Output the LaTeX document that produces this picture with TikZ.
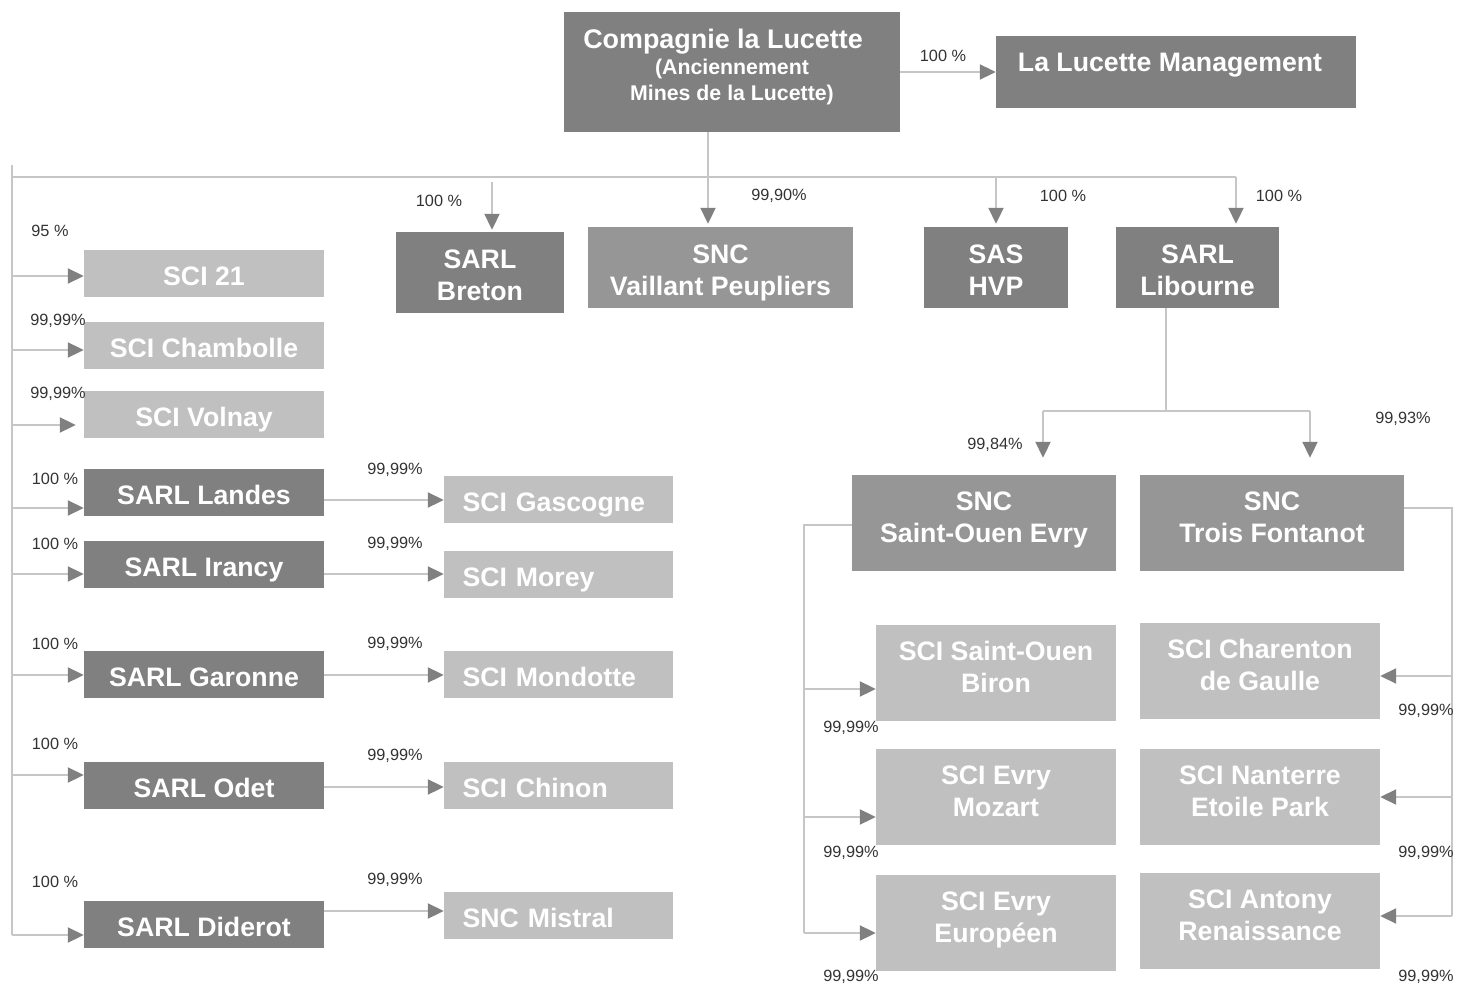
\documentclass[tikz,border=0pt]{standalone}
\usepackage{fontspec}
\setmainfont{Liberation Sans}
\usetikzlibrary{arrows.meta, positioning}
\definecolor{dark}{HTML}{808080}
\definecolor{mid}{HTML}{969696}
\definecolor{light}{HTML}{C0C0C0}
\definecolor{wire}{HTML}{C6C6C6}
\definecolor{pct}{HTML}{333333}

\begin{document}
\begin{tikzpicture}[x=1pt, y=-1pt,
	box/.style={fill=#1, text=white, font=\bfseries\fontsize{26.7}{32}\selectfont, align=center, inner sep=0pt},
	one/.style={text height=24pt, text depth=0pt},
	pair/.style={text height=56pt, text depth=0pt},
	two/.style={text depth=12pt},
	lft/.style={text width=192pt, align=left},
	link/.style={draw=wire, line width=2pt},
	arr/.style={link, -{Triangle[length=16pt, width=15pt, color=dark]}},
	pc/.style={font=\fontsize{16.3}{18}\selectfont, text=pct, inner sep=0pt}]
	\useasboundingbox (0,0) rectangle (1457,984);

	% top of the group
	\node[box=dark, minimum width=336pt, minimum height=120pt, text depth=14pt,
		font=\bfseries\fontsize{26.9}{26}\selectfont] (comp) at (732,72)
		{Compagnie la Lucette\hspace*{18pt}\\{\fontsize{21.3}{26}\selectfont (Anciennement}\\{\fontsize{21.3}{26}\selectfont Mines de la Lucette)}};
	\node[box=dark, minimum width=360pt, minimum height=72pt, text height=20pt, text depth=20pt] (mgmt) at (1176,72) {La Lucette Management\hspace*{12pt}};

	\node[box=dark, pair, minimum width=168pt, minimum height=81pt] (breton) at (480,272.5) {SARL\\Breton};
	\node[box=mid, pair, minimum width=265pt, minimum height=81pt] (vaillant) at (720.5,267.5) {SNC\\Vaillant Peupliers};
	\node[box=dark, pair, minimum width=144pt, minimum height=81pt] (hvp) at (996,267.5) {SAS\\HVP};
	\node[box=dark, pair, minimum width=163pt, minimum height=81pt] (libourne) at (1197.5,267.5) {SARL\\Libourne};

	% left column
	\foreach \n/\y/\c/\t in {sci21/274/light/SCI 21, chambolle/346/light/SCI Chambolle, volnay/414/light/SCI Volnay,
		landes/492/dark/SARL Landes, irancy/564/dark/SARL Irancy, garonne/674.5/dark/SARL Garonne,
		odet/785.5/dark/SARL Odet, diderot/924/dark/SARL Diderot}
		\node[box=\c, one, minimum width=240pt, minimum height=47pt] (\n) at (204,\y) {\t};
	\foreach \n/\y/\t in {gascogne/499.5/SCI Gascogne, morey/574.5/SCI Morey, mondotte/674.5/SCI Mondotte,
		chinon/785.5/SCI Chinon, mistral/915.5/SNC Mistral}
		\node[box=light, one, lft, minimum width=229pt, minimum height=47pt] (\n) at (558.5,\y) {\t};

	% Libourne branch
	\node[box=mid, two, minimum width=264pt, minimum height=96pt] (soe) at (984,523) {SNC\\Saint-Ouen Evry};
	\node[box=mid, two, minimum width=264pt, minimum height=96pt] (trois) at (1272,523) {SNC\\Trois Fontanot};
	\node[box=light, two, minimum width=240pt, minimum height=96pt] (biron) at (996,673) {SCI Saint-Ouen\\Biron};
	\node[box=light, two, minimum width=240pt, minimum height=96pt] (mozart) at (996,797) {SCI Evry\\Mozart};
	\node[box=light, two, minimum width=240pt, minimum height=96pt] (europeen) at (996,923) {SCI Evry\\Européen};
	\node[box=light, two, minimum width=240pt, minimum height=96pt] (charenton) at (1260,671) {SCI Charenton\\de Gaulle};
	\node[box=light, two, minimum width=240pt, minimum height=96pt] (nanterre) at (1260,797) {SCI Nanterre\\Etoile Park};
	\node[box=light, two, minimum width=240pt, minimum height=96pt] (antony) at (1260,921) {SCI Antony\\Renaissance};

	% connectors
	\coordinate (hub) at (708,177);
	\coordinate (lbus) at (12,177);
	\coordinate (rbus) at (1236,177);
	\draw[arr] (comp.east) -- (mgmt.west);
	\draw[link] (comp.south -| hub) -- (hub);
	\draw[link, line width=2.5pt] (lbus) -- (rbus);
	\draw[link] (12,165) -- (lbus |- 0,935);
	\draw[arr, shorten >=2pt] (492,182) -- (breton.north -| 492,0);
	\draw[arr, shorten >=3pt] (hub) -- (vaillant.north -| hub);
	\draw[arr, shorten >=3pt] (hvp.north |- hub) -- (hvp.north);
	\draw[arr, shorten >=3pt] (rbus) -- (libourne.north -| rbus);

	\foreach \n/\y in {sci21/276, chambolle/350, landes/508, irancy/574, garonne/675, odet/775, diderot/935}
		\draw[arr] (lbus |- 0,\y) -- (\n.west |- 0,\y);
	\draw[arr, shorten >=8pt] (lbus |- 0,425) -- (volnay.west |- 0,425);
	\foreach \a/\b/\y in {landes/gascogne/500, irancy/morey/574, garonne/mondotte/675, odet/chinon/787, diderot/mistral/911}
		\draw[arr] (\a.east |- 0,\y) -- (\b.west |- 0,\y);

	\coordinate (split) at (1166,411);
	\coordinate (sl) at (1043,411);
	\coordinate (sr) at (1310,411);
	\draw[link] (libourne.south -| split) -- (split);
	\draw[link] (sl) -- (sr);
	\draw[arr, shorten >=17pt] (sl) -- (soe.north -| sl);
	\draw[arr, shorten >=17pt] (sr) -- (trois.north -| sr);

	\coordinate (lb) at (804,933);
	\coordinate (rb) at (1452,916);
	\draw[link] (soe.west |- 0,525) -| (lb);
	\draw[link] (trois.east |- 0,508) -| (rb);
	\foreach \n/\y in {biron/689, mozart/817, europeen/933}
		\draw[arr] (lb |- 0,\y) -- (\n.west |- 0,\y);
	\foreach \n/\y in {charenton/676, nanterre/797, antony/916}
		\draw[arr] (rb |- 0,\y) -- (\n.east |- 0,\y);

	% shares
	\foreach \p/\t [count=\i] in {{943,56}/{100 \%}, {439,201}/{100 \%}, {779,196}/{99,90\%}, {1063,196}/{100 \%}, {1279,196}/{100 \%},
		{50,231}/{95 \%}, {58,321}/{99,99\%}, {58,394}/{99,99\%}, {55,479}/{100 \%}, {55,544}/{100 \%}, {55,644}/{100 \%},
		{55,744}/{100 \%}, {55,882}/{100 \%}, {395,470}/{99,99\%}, {395,544}/{99,99\%}, {395,644}/{99,99\%},
		{395,756}/{99,99\%}, {395,880}/{99,99\%}, {995,445}/{99,84\%}, {1403,419}/{99,93\%},
		{851,728}/{99,99\%}, {851,853}/{99,99\%}, {851,977}/{99,99\%}, {1426,711}/{99,99\%}, {1426,853}/{99,99\%}, {1426,977}/{99,99\%}}
		\node[pc] (pc\i) at (\p) {\t};
\end{tikzpicture}
\end{document}
